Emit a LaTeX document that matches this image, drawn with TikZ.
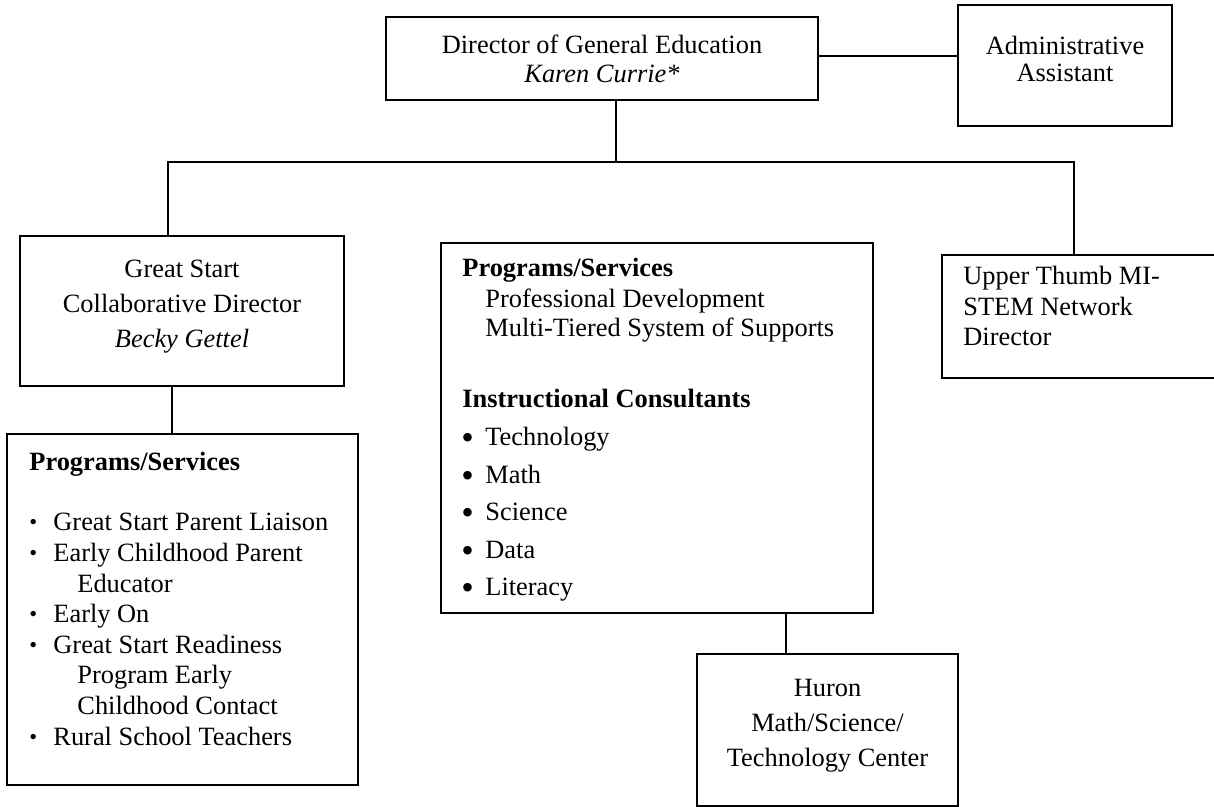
\documentclass[tikz,border=0pt]{standalone}
\usepackage{fontspec}
\setmainfont{Liberation Serif}
\begin{document}
\begin{tikzpicture}[x=0.5pt,y=-0.5pt,
  box/.style={draw=black, line width=1pt, inner sep=0pt, fill=none},
  conn/.style={draw=black, line width=1pt},
  txt/.style={inner sep=0pt, font=\fontsize{13.2}{15}\selectfont},
  ctxt/.style={txt, anchor=base},
  ltxt/.style={txt, anchor=base west},
  bigbul/.style={txt, anchor=base west},
  smallbul/.style={txt, anchor=base west}]
\useasboundingbox (0,0) rectangle (1214,807);
\clip (0,0) rectangle (1214,807);

% boxes
\node[box, minimum width=216pt, minimum height=41.5pt] (dir) at (602,58.5) {};
\node[box, minimum width=107pt, minimum height=60.5pt] (adm) at (1065,65.5) {};
\node[box, minimum width=162pt, minimum height=75pt] (gs) at (182,311) {};
\node[box, minimum width=175.5pt, minimum height=175.5pt] (ll) at (182.5,609.5) {};
\node[box, minimum width=216pt, minimum height=185pt] (mid) at (657,428) {};
\node[box, minimum width=144pt, minimum height=61.5pt] (ut) at (1086,316.5) {};
\node[box, minimum width=130.5pt, minimum height=76pt] (hu) at (827.5,730) {};

% connectors
\coordinate (ya) at (0,56);
\coordinate (tr) at (616,162);
\coordinate (hl) at (168,162);
\coordinate (hr) at (1074,162);
\coordinate (gx) at (172,0);
\coordinate (hx) at (786,0);
\draw[conn] (dir.east |- ya) -- (adm.west |- ya);
\draw[conn] (tr |- dir.south) -- (tr);
\draw[conn] (hl |- gs.north) -- (hl) -- (hr) -- (hr |- ut.north);
\draw[conn] (gx |- gs.south) -- (gx |- ll.north);
\draw[conn] (hx |- mid.south) -- (hx |- hu.north);

% director
\node[ctxt] (dirt1) at (602,54) {Director of General Education};
\node[ctxt] (dirt2) at (602,83) {\itshape Karen Currie*};
% admin
\node[ctxt] (admt1) at (1065,55) {Administrative};
\node[ctxt] (admt2) at (1065,82) {Assistant};
% great start
\node[ctxt] (gst1) at (182,278) {Great Start};
\node[ctxt] (gst2) at (182,313) {Collaborative Director};
\node[ctxt] (gst3) at (182,348) {\itshape Becky Gettel};
% huron
\node[ctxt] (hut1) at (827.5,696) {Huron};
\node[ctxt] (hut2) at (827.5,731) {Math/Science/};
\node[ctxt] (hut3) at (827.5,766) {Technology Center};
% upper thumb
\node[ltxt] (utt1) at (963,285) {Upper Thumb MI-};
\node[ltxt] (utt2) at (963,315) {STEM Network};
\node[ltxt] (utt3) at (963,346) {Director};

% middle box
\node[ltxt] (midh1) at (462,277) {\bfseries Programs/Services};
\node[ltxt] (midp1) at (485,308) {Professional Development};
\node[ltxt] (midp2) at (485,336) {Multi-Tiered System of Supports};
\node[ltxt] (midh2) at (462,407) {\bfseries Instructional Consultants};
\foreach \y/\t [count=\i] in {445/Technology, 483/Math, 520/Science, 558/Data, 595/Literacy} {
  \node[bigbul] (midb\i) at (461,\y) {\raisebox{-2pt}{\scalebox{1.35}{•}}};
  \node[ltxt] (midi\i) at (485,\y) {\t};
}

% lower left box
\node[ltxt] (llh) at (29,470) {\bfseries Programs/Services};
\foreach \y/\t [count=\i] in {530/Great Start Parent Liaison, 561/Early Childhood Parent, 622/Early On, 653/Great Start Readiness, 745/Rural School Teachers} {
  \node[smallbul] (llb\i) at (29,\y) {\raisebox{0.4pt}{\scalebox{0.85}{•}}};
  \node[ltxt] (lli\i) at (53,\y) {\t};
}
\node[ltxt] (llc1) at (77,592) {Educator};
\node[ltxt] (llc2) at (77,683) {Program Early};
\node[ltxt] (llc3) at (77,714) {Childhood Contact};
\end{tikzpicture}
\end{document}
